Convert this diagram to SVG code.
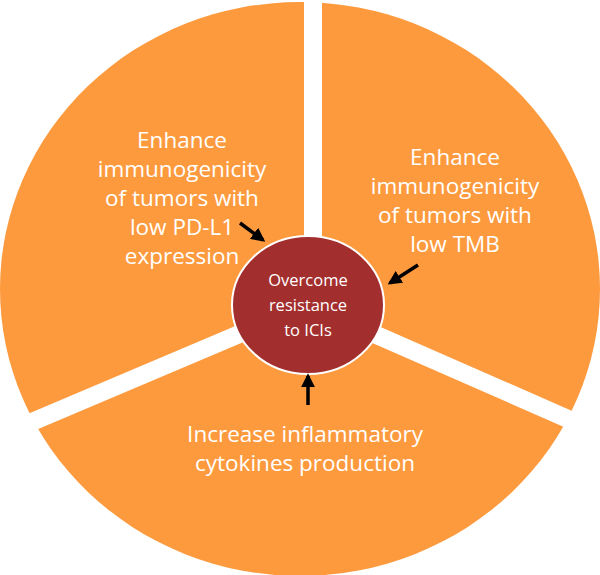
<svg xmlns="http://www.w3.org/2000/svg" width="600" height="575" viewBox="0 0 600 575">
<defs>
<style>
.t{font-family:"Open Sans","Liberation Sans",sans-serif;fill:#fff;font-size:22.5px;text-anchor:middle}
.c{font-size:16.5px}
.gap{stroke:#fff;stroke-width:18}
.ar{stroke:#000;stroke-width:3.5;fill:none;marker-end:url(#ah)}
</style>
<marker id="ah" viewBox="0 0 10 10" refX="8" refY="5" markerWidth="4" markerHeight="4" orient="auto"><path d="M0,0 L10,5 L0,10 Z" fill="#000"/></marker>
</defs>
<rect width="600" height="575" fill="#fff"/>
<g id="pie">
<ellipse cx="300" cy="289" rx="300" ry="287" fill="#FD9A3E"/>
<line class="gap" x1="313" y1="0" x2="313" y2="300"/>
<line class="gap" x1="308" y1="305" x2="600" y2="433"/>
<line class="gap" x1="308" y1="305" x2="20" y2="427"/>
</g>
<g id="n1"><text class="t" x="182" y="148">Enhance</text><text class="t" x="182" y="177">immunogenicity</text><text class="t" x="182" y="206">of tumors with</text><text class="t" x="182" y="235">low PD-L1</text><text class="t" x="182" y="264">expression</text></g>
<g id="n2"><text class="t" x="455" y="165">Enhance</text><text class="t" x="455" y="194">immunogenicity</text><text class="t" x="455" y="223">of tumors with</text><text class="t" x="455" y="252">low TMB</text></g>
<g id="n3"><text class="t" x="305" y="442">Increase inflammatory</text><text class="t" x="305" y="471">cytokines production</text></g>
<g id="center"><ellipse cx="308" cy="305" rx="76" ry="69" fill="#A32E2E" stroke="#fff" stroke-width="2"/>
<text class="t c" x="308" y="286">Overcome</text><text class="t c" x="308" y="311">resistance</text><text class="t c" x="308" y="336">to ICIs</text></g>
<g id="connectors">
<line class="ar" x1="240" y1="223" x2="263" y2="240"/>
<line class="ar" x1="418" y1="265" x2="390" y2="283"/>
<line class="ar" x1="308" y1="405" x2="308" y2="376"/>
</g>
</svg>
